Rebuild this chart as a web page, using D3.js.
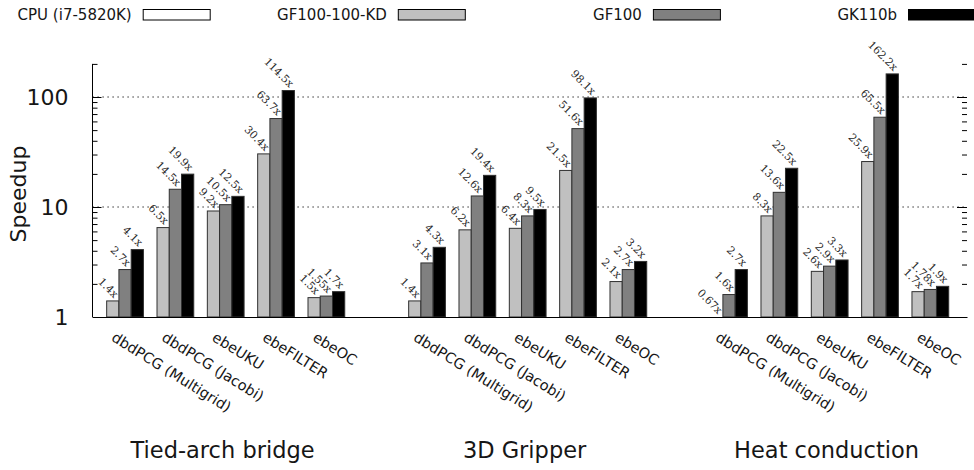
<!DOCTYPE html>
<html><head><meta charset="utf-8">
<script src="https://cdn.jsdelivr.net/npm/d3@7"></script>
<style>body{margin:0;background:#fff} svg{display:block}</style>
</head><body><svg id="c" width="974" height="470"></svg>
<script>
// ---- data ----
const series = ["CPU (i7-5820K)", "GF100-100-KD", "GF100", "GK110b"];
const seriesColors = ["#ffffff", "#c0c0c0", "#808080", "#000000"];
const groups = ["Tied-arch bridge", "3D Gripper", "Heat conduction"];
const kernels = ["dbdPCG (Multigrid)", "dbdPCG (Jacobi)", "ebeUKU", "ebeFILTER", "ebeOC"];
// speedups per kernel: [CPU, GF100-100-KD, GF100, GK110b]
const tiedArch = [[1, 1.4, 2.7, 4.1], [1, 6.5, 14.5, 19.9], [1, 9.2, 10.5, 12.5], [1, 30.4, 63.7, 114.5], [1, 1.5, 1.55, 1.7]];
const gripper  = [[1, 1.4, 3.1, 4.3], [1, 6.2, 12.6, 19.4], [1, 6.4, 8.3, 9.5], [1, 21.5, 51.6, 98.1], [1, 2.1, 2.7, 3.2]];
const heat     = [[1, 0.67, 1.6, 2.7], [1, 8.3, 13.6, 22.5], [1, 2.6, 2.9, 3.3], [1, 25.9, 65.5, 162.2], [1, 1.7, 1.78, 1.9]];
const groupValues = [tiedArch, gripper, heat];
const yMajorTicks = [1, 10, 100];
const yTickLabels = ["1", "10", "100"];
const yLabel = "Speedup";

(function () {
// ---- layout ----
const svg = d3.select("#c");
const pLeft = 92.5, pRight = 967, pTop = 63.9, pBottom = 317;
const slotsPerGroup = kernels.length + 1;

const x = d3.scaleLinear().domain([-0.525, 16.85]).range([pLeft, pRight]);
const inner = d3.scaleBand().domain(series).range([-24.5, 24.5]);
const y = d3.scaleLog().domain([1, 200]).range([pBottom, pTop]);
const minorTicks = y.ticks().filter(t => !yMajorTicks.includes(t));

const sans = "DejaVu Sans, sans-serif";
const ink = "#161616";

// grid
svg.append("g").selectAll("line").data(yMajorTicks.filter(t => t > 1)).join("line")
  .attr("x1", pLeft).attr("x2", pRight)
  .attr("y1", d => y(d)).attr("y2", d => y(d))
  .attr("stroke", "#000").attr("stroke-width", 1)
  .attr("stroke-dasharray", "1.2 3.8");

// bars
const flat = [];
groupValues.forEach((gv, gi) => gv.forEach((vals, ki) => vals.forEach((v, si) => {
  flat.push({ slot: gi * slotsPerGroup + ki, s: series[si], si, v });
})));

svg.append("g").selectAll("rect").data(flat.filter(d => d.v > 1)).join("rect")
  .attr("x", d => x(d.slot) + inner(d.s))
  .attr("width", inner.bandwidth())
  .attr("y", d => y(d.v))
  .attr("height", d => y(1) - y(d.v))
  .attr("fill", d => seriesColors[d.si])
  .attr("stroke", "#303030").attr("stroke-width", 1);

// value labels
svg.append("g").selectAll("text").data(flat.filter(d => d.si > 0)).join("text")
  .attr("transform", d => {
    const cx = x(d.slot) + inner(d.s) + inner.bandwidth() / 2 + 1;
    const ty = y(Math.max(d.v, 1)) - 2.5;
    return `translate(${cx},${ty}) rotate(45)`;
  })
  .attr("text-anchor", "end")
  .attr("font-family", "DejaVu Serif, serif")
  .attr("font-size", 10.7)
  .attr("fill", "#262626")
  .text(d => d.v + "x");

// axes
const axL = svg.append("g").attr("transform", `translate(${pLeft},0)`)
  .call(d3.axisLeft(y).tickValues(yMajorTicks).tickSize(-9).tickSizeOuter(0)
        .tickFormat((d, i) => yTickLabels[i]).tickPadding(24));
axL.select(".domain").attr("d", `M0,${pTop}V${pBottom}`).attr("stroke", "#000");
axL.selectAll(".tick text").attr("font-family", sans).attr("font-size", 22).attr("fill", ink);
axL.selectAll(".tick line").attr("stroke", "#000");
svg.append("g").attr("transform", `translate(${pLeft},0)`)
  .call(d3.axisLeft(y).tickValues(minorTicks).tickSize(-5).tickFormat(""))
  .call(g => g.select(".domain").remove());

svg.append("g").attr("transform", `translate(${pRight},0)`)
  .call(d3.axisRight(y).tickValues(yMajorTicks.filter(t => t > 1)).tickSize(-10).tickFormat(""))
  .call(g => g.select(".domain").remove());
svg.append("g").attr("transform", `translate(${pRight},0)`)
  .call(d3.axisRight(y).tickValues(minorTicks).tickSize(-5).tickFormat(""))
  .call(g => g.select(".domain").remove());

svg.append("g").attr("transform", `translate(0,${pBottom})`)
  .call(d3.axisBottom(x).tickValues([]).tickSizeOuter(0))
  .select(".domain").attr("stroke", "#000");

// category labels
const cats = [];
groups.forEach((g, gi) => kernels.forEach((k, ki) => cats.push({ slot: gi * slotsPerGroup + ki, k })));
svg.append("g").selectAll("text").data(cats).join("text")
  .attr("transform", d => `translate(${x(d.slot) - 8.5},${pBottom + 23}) rotate(32)`)
  .attr("font-family", sans).attr("font-size", 14.5).attr("fill", ink)
  .text(d => d.k);

// group labels
svg.append("g").selectAll("text").data(groups).join("text")
  .attr("x", (d, i) => x(i * slotsPerGroup + 2) + 3)
  .attr("y", 457.5)
  .attr("text-anchor", "middle")
  .attr("font-family", sans).attr("font-size", 22.5).attr("fill", ink)
  .text(d => d);

// y label
svg.append("text")
  .attr("transform", "translate(26,194) rotate(-90)")
  .attr("text-anchor", "middle")
  .attr("font-family", sans).attr("font-size", 22).attr("fill", ink)
  .text(yLabel);

// legend (equal-width columns)
const legendX = d3.scaleLinear().domain([0, series.length - 1]).range([142.7, 908]);
const lg = svg.append("g").selectAll("g").data(series).join("g")
  .attr("transform", (d, i) => `translate(${legendX(i)},0)`);
lg.append("rect").attr("x", 0.5).attr("y", 9.5).attr("width", 67).attr("height", 10.5)
  .attr("fill", (d, i) => seriesColors[i]).attr("stroke", "#000").attr("stroke-width", 1);
lg.append("text").attr("x", -11).attr("y", 20).attr("text-anchor", "end")
  .attr("font-family", sans).attr("font-size", 15).attr("fill", ink)
  .text(d => d);
})();
</script>
</body></html>
